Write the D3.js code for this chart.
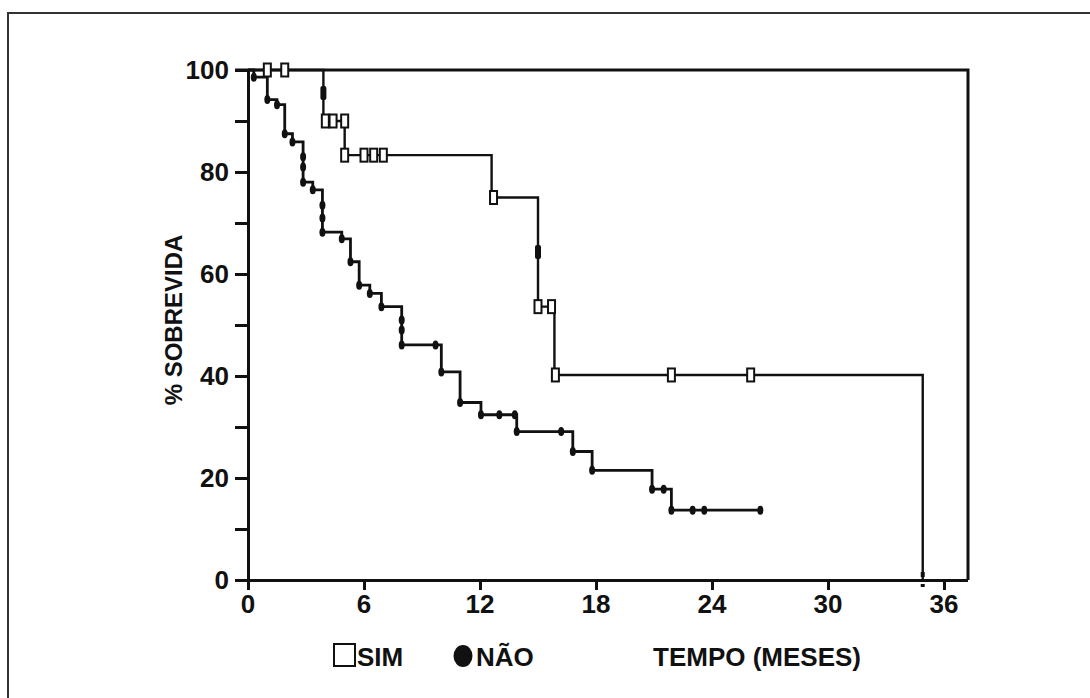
<!DOCTYPE html>
<html>
<head>
<meta charset="utf-8">
<script src="https://cdn.jsdelivr.net/npm/d3@7"></script>
<style>
  body { margin: 0; background: #fff; }
  text { font-family: "Liberation Sans", Arial, sans-serif; font-weight: bold; fill: #111; }
</style>
</head>
<body>
<script>
// x ticks (months) and y ticks (%)
let xTicks = [0, 6, 12, 18, 24, 30, 36];
let yTicks = [0, 10, 20, 30, 40, 50, 60, 70, 80, 90, 100];
let yLabels = [0, 20, 40, 60, 80, 100];

// SIM group: drop times and survival after each drop
let simT = [3.9, 3.9, 5.0, 12.6, 15.0, 15.0, 15.85, 34.9];
let simS = [95.5, 90, 83.3, 75, 64.3, 53.6, 40.2, 0];
let simEnd = 34.9;
// SIM marks (open rectangles)
let simMarkT = [1.0, 1.9, 4.0, 4.4, 5.0, 5.0, 6.0, 6.5, 7.0, 12.7, 15.0, 15.7, 15.9, 21.9, 26.0];
let simMarkS = [100, 100, 90, 90, 90, 83.3, 83.3, 83.3, 83.3, 75, 53.6, 53.6, 40.2, 40.2, 40.2];
let simFillT = [3.9, 15.0];
let simFillS = [95.5, 64.3];

// NAO group
let naoT = [0.3, 1.0, 1.5, 1.9, 2.3, 2.85, 3.35, 3.85, 4.85, 5.3, 5.75, 6.3, 6.9, 7.95,
  10.0, 10.97, 12.05, 13.9, 16.8, 17.8, 20.9, 21.9];
let naoS = [98.6, 94.2, 93.2, 87.5, 85.9, 78.0, 76.5, 68.2, 66.9, 62.4, 57.8, 56.2, 53.6, 46.1,
  40.8, 34.8, 32.4, 29.1, 25.2, 21.5, 17.8, 13.7];
let naoEnd = 26.5;
// extra NAO ticks on the flat parts
let naoMarkT = [9.7, 13.0, 13.8, 16.2, 21.5, 23.0, 23.6, 26.5, 2.85, 2.85, 3.85, 3.85, 7.95, 7.95];
let naoMarkS = [46.1, 32.4, 32.4, 29.1, 17.8, 13.7, 13.7, 13.7, 81, 83, 71, 73.5, 49, 51];

let W = 1090, H = 698;
let svg = d3.select("body").append("svg")
  .attr("width", W)
  .attr("height", H);

let x = d3.scaleLinear().domain([0, 36]).range([248, 944]);
let y = d3.scaleLinear().domain([0, 100]).range([580, 70]);
let rightEdge = 968;
let fs = "26px";

// page frame (scan border)
svg.append("path")
  .attr("d", "M8," + H + "V13H" + W)
  .attr("fill", "none")
  .attr("stroke", "#333")
  .attr("stroke-width", 2);

// axes
let yAxis = d3.axisLeft(y).tickValues(yTicks).tickSize(13).tickFormat("");
let gy = svg.append("g").attr("transform", "translate(248,0)").call(yAxis);
let xAxis = d3.axisBottom(x).tickValues(xTicks).tickSize(10).tickFormat("");
let gx = svg.append("g").attr("transform", "translate(0,580)").call(xAxis);
[gx, gy].forEach(function (g) {
  g.selectAll("path").attr("stroke", "#111").attr("stroke-width", 3);
  g.selectAll("line").attr("stroke", "#111").attr("stroke-width", 3);
});
gx.select(".domain").attr("d", "M235,0.5H" + rightEdge);

// top and right border of the plot box
svg.append("path")
  .attr("d", "M235," + y(100) + "H" + rightEdge + "V" + y(0))
  .attr("fill", "none")
  .attr("stroke", "#111")
  .attr("stroke-width", 3);

// tick labels
svg.selectAll(".ylab").data(yLabels).enter().append("text")
  .attr("x", 229)
  .attr("y", d => y(d))
  .attr("dy", "0.36em")
  .attr("text-anchor", "end")
  .style("font-size", fs)
  .text(d => d);
svg.selectAll(".xlab").data(xTicks).enter().append("text")
  .attr("x", d => x(d))
  .attr("y", 613)
  .attr("text-anchor", "middle")
  .style("font-size", fs)
  .text(d => d);

svg.append("text")
  .attr("transform", "translate(182,320) rotate(-90)")
  .attr("text-anchor", "middle")
  .style("font-size", "24px")
  .text("% SOBREVIDA");

// step line builder
function stepPts(ts, ss, end) {
  let pts = [[0, 100]];
  let cur = 100;
  ts.forEach(function (t, i) {
    pts.push([t, cur]);
    cur = ss[i];
    pts.push([t, cur]);
  });
  if (end > ts[ts.length - 1]) pts.push([end, cur]);
  return pts;
}
let line = d3.line().x(d => x(d[0])).y(d => y(d[1]));

svg.append("path")
  .datum(stepPts(naoT, naoS, naoEnd))
  .attr("d", line)
  .attr("fill", "none")
  .attr("stroke", "#111")
  .attr("stroke-width", 2.8);

svg.append("path")
  .datum(stepPts(simT, simS, simEnd))
  .attr("d", line)
  .attr("fill", "none")
  .attr("stroke", "#111")
  .attr("stroke-width", 2.4);

// NAO dots at each step corner and extra ticks
let naoDots = naoT.map((t, i) => [t, naoS[i]])
  .concat(naoMarkT.map((t, i) => [t, naoMarkS[i]]));
svg.selectAll(".nao").data(naoDots).enter().append("ellipse")
  .attr("cx", d => x(d[0]))
  .attr("cy", d => y(d[1]))
  .attr("rx", 3)
  .attr("ry", 4.5)
  .attr("fill", "#111");

// SIM open rectangles
let simMarks = simMarkT.map((t, i) => [t, simMarkS[i]]);
svg.selectAll(".sim").data(simMarks).enter().append("rect")
  .attr("x", d => x(d[0]) - 3.5)
  .attr("y", d => y(d[1]) - 6.5)
  .attr("width", 7)
  .attr("height", 13)
  .attr("fill", "#fff")
  .attr("stroke", "#111")
  .attr("stroke-width", 2);
let simFill = simFillT.map((t, i) => [t, simFillS[i]]);
svg.selectAll(".simf").data(simFill).enter().append("rect")
  .attr("x", d => x(d[0]) - 3)
  .attr("y", d => y(d[1]) - 7)
  .attr("width", 6)
  .attr("height", 14)
  .attr("rx", 2)
  .attr("fill", "#111");
// small mark at the last drop
svg.append("rect")
  .attr("x", x(simEnd) - 2).attr("y", y(0) - 8)
  .attr("width", 4).attr("height", 5).attr("fill", "#111");
svg.append("rect")
  .attr("x", x(simEnd) - 2).attr("y", y(0) + 4)
  .attr("width", 4).attr("height", 3).attr("fill", "#111");

// legend
svg.append("rect")
  .attr("x", 334).attr("y", 644)
  .attr("width", 21).attr("height", 22)
  .attr("fill", "none")
  .attr("stroke", "#111")
  .attr("stroke-width", 2);
svg.append("text")
  .attr("x", 357).attr("y", 666)
  .style("font-size", fs)
  .text("SIM");
svg.append("ellipse")
  .attr("cx", 463).attr("cy", 656)
  .attr("rx", 9.5).attr("ry", 11)
  .attr("fill", "#111");
svg.append("text")
  .attr("x", 476).attr("y", 666)
  .style("font-size", fs)
  .text("NÃO");
svg.append("text")
  .attr("x", 653).attr("y", 666)
  .style("font-size", fs)
  .text("TEMPO (MESES)");
</script>
</body>
</html>
